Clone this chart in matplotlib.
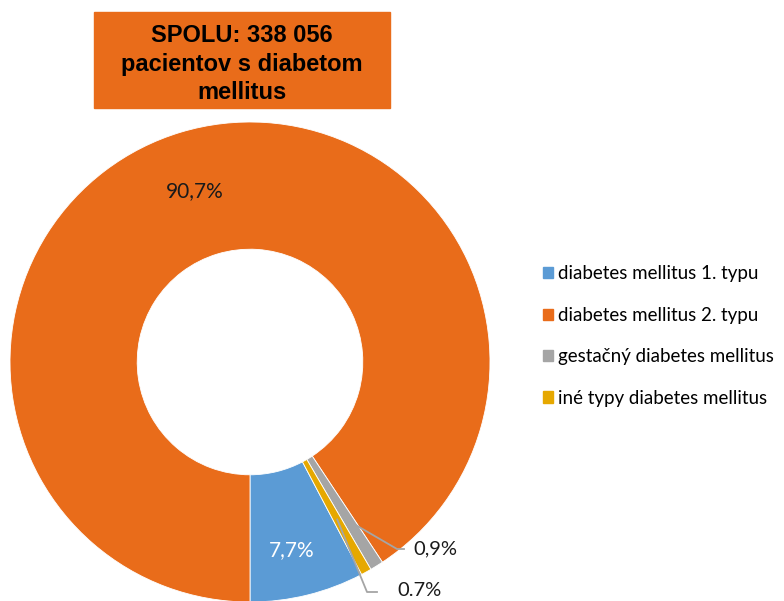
import numpy as np
import matplotlib
matplotlib.use('Agg')
from matplotlib import pyplot as plt
from matplotlib.patches import Patch

  # data

kategorie = ['diabetes mellitus 1. typu', 'diabetes mellitus 2. typu',
             'gestačný diabetes mellitus', 'iné typy diabetes mellitus']
podiely = [7.7, 90.7, 0.9, 0.7]
popisky = ['7,7%', '90,7%', '0,9%', '0.7%']
farby = ['#5B9BD5', '#E96C1A', '#A5A5A5', '#E6A800']
nadpis = 'SPOLU: 338 056\npacientov s diabetom\nmellitus'

plt.rcParams['font.family'] = ['Lato', 'DejaVu Sans']

fig = plt.figure(figsize=(7.84, 6.01), dpi=100)
W, H = 784, 601
R = 240
cx, cy = 250, 362
ax = fig.add_axes([(cx - R) / W, (H - cy - R) / H, 2 * R / W, 2 * R / H])

start = -90 + podiely[0] / 100 * 360
wedges, _ = ax.pie(podiely, colors=farby, startangle=start, counterclock=False,
                   radius=1, wedgeprops=dict(width=0.53, edgecolor='white', linewidth=0.6))
ax.set_xlim(-1, 1)
ax.set_ylim(-1, 1)
ax.set_aspect('equal')
ax.axis('off')

def px(x, y):
    return (x - cx) / R, (cy - y) / R

  # popisky vnutri

ax.text(*px(195, 191), popisky[1], ha='center', va='center', fontsize=15, color='#1a1a1a')
ax.text(*px(292, 550), popisky[0], ha='center', va='center', fontsize=15, color='white')

  # popisky s ciarou

def stred(w, r):
    a = np.deg2rad((w.theta1 + w.theta2) / 2)
    return r * np.cos(a), r * np.sin(a)

ciary = {2: (0.78, (397, 549), (404, 549), (413, 549)),
         3: (0.75, (367, 592), (377, 592), (397, 590))}
for i, (r, lom, kon, txt) in ciary.items():
    x0, y0 = stred(wedges[i], r)
    x1, y1 = px(*lom)
    x2, y2 = px(*kon)
    ax.plot([x0, x1, x2], [y0, y1, y2], color='#A5A5A5', lw=1.3, clip_on=False)
    ax.text(*px(*txt), popisky[i], ha='left', va='center', fontsize=14.5,
            color='#1a1a1a')

  # nadpis v oranzovom boxe

fig.patches.append(plt.Rectangle((94 / W, 1 - 108 / H), (390 - 94) / W, (108 - 12) / H,
                                 transform=fig.transFigure, color='#E96C1A', zorder=0))
fig.text(242 / W, 1 - 64 / H, nadpis, ha='center', va='center', fontsize=17,
         fontweight='bold', family=['Liberation Sans', 'DejaVu Sans'],
         linespacing=1.3, color='black')

  # legenda

handles = [Patch(color=c) for c in farby]
fig.legend(handles, kategorie, loc='center left', bbox_to_anchor=(535 / W, 1 - 336 / H),
           frameon=False, fontsize=13.5, handlelength=0.55, handleheight=0.55,
           handletextpad=0.3, labelspacing=1.3, borderaxespad=0)

fig.savefig('out.png', dpi=100)
